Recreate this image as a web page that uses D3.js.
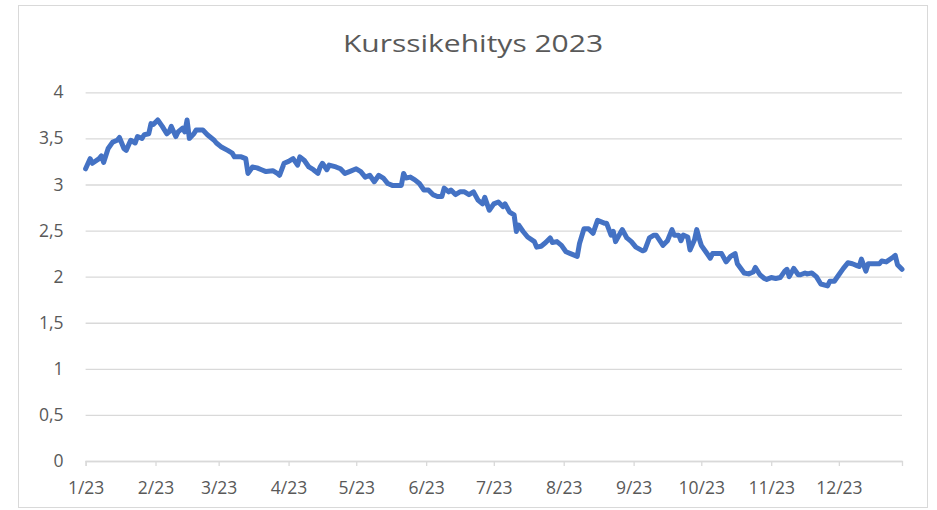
<!DOCTYPE html>
<html>
<head>
<meta charset="utf-8">
<script src="https://cdn.jsdelivr.net/npm/d3@7"></script>
<style>
    body { margin: 0; background: #fff; }
    text { font-family: "Open Sans", sans-serif; fill: #595959; }
</style>
</head>
<body>
<div id="chart"></div>
<script>
// chart data: day of year 2023 (0 = Jan 1) and closing price
const days = [
    0, 2, 3, 6, 7, 8, 10, 12, 14, 15, 17, 18, 20, 22, 23, 25, 26, 28, 29, 30,
    32, 34, 36, 37, 38, 40, 41, 43, 44, 45, 46, 48, 49, 52, 54, 57, 58, 60, 63, 65,
    66, 69, 71, 72, 74, 76, 78, 80, 83, 85, 86, 88, 90, 92, 94, 95, 97, 99, 101, 103,
    104, 105, 107, 108, 111, 113, 115, 117, 120, 122, 124, 126, 128, 130, 132, 134, 136, 138, 140, 141,
    142, 144, 146, 148, 150, 152, 154, 156, 158, 159, 161, 162, 164, 166, 168, 170, 172, 174, 176, 177,
    179, 181, 183, 185, 186, 188, 190, 191, 192, 194, 196, 199, 200, 202, 204, 206, 207, 209, 211, 213,
    215, 218, 219, 221, 223, 225, 227, 230, 231, 233, 234, 235, 237, 238, 240, 242, 244, 247, 248, 250,
    252, 253, 256, 258, 260, 261, 263, 264, 265, 267, 268, 270, 271, 272, 273, 275, 277, 278, 280, 282,
    284, 286, 288, 289, 292, 294, 296, 297, 299, 301, 302, 304, 306, 308, 310, 311, 312, 314, 316, 317,
    319, 320, 322, 324, 326, 329, 330, 332, 334, 336, 338, 340, 342, 343, 344, 346, 347, 349, 352, 353,
    355, 358, 359, 360, 362
];
const prices = [
    3.17, 3.28, 3.23, 3.28, 3.31, 3.24, 3.39, 3.46, 3.48, 3.51, 3.39, 3.37, 3.48, 3.45, 3.52, 3.50, 3.54, 3.55, 3.66, 3.65,
    3.70, 3.63, 3.55, 3.57, 3.63, 3.52, 3.57, 3.61, 3.57, 3.70, 3.50, 3.55, 3.59, 3.59, 3.54, 3.48, 3.45, 3.41, 3.37, 3.34,
    3.30, 3.30, 3.28, 3.12, 3.19, 3.18, 3.16, 3.14, 3.15, 3.12, 3.10, 3.23, 3.25, 3.28, 3.21, 3.30, 3.26, 3.19, 3.16, 3.12,
    3.19, 3.23, 3.16, 3.21, 3.19, 3.17, 3.12, 3.14, 3.17, 3.14, 3.08, 3.10, 3.03, 3.10, 3.07, 3.01, 2.99, 2.99, 2.99, 3.12,
    3.07, 3.08, 3.05, 3.01, 2.94, 2.94, 2.89, 2.87, 2.87, 2.96, 2.92, 2.94, 2.89, 2.92, 2.92, 2.89, 2.92, 2.83, 2.79, 2.86,
    2.72, 2.79, 2.81, 2.76, 2.79, 2.70, 2.67, 2.49, 2.56, 2.49, 2.43, 2.38, 2.32, 2.33, 2.37, 2.42, 2.37, 2.38, 2.34, 2.27,
    2.25, 2.22, 2.36, 2.52, 2.52, 2.47, 2.61, 2.58, 2.58, 2.45, 2.49, 2.38, 2.47, 2.51, 2.42, 2.38, 2.32, 2.28, 2.29, 2.42,
    2.45, 2.45, 2.34, 2.39, 2.51, 2.45, 2.45, 2.39, 2.45, 2.43, 2.29, 2.40, 2.51, 2.42, 2.34, 2.27, 2.20, 2.25, 2.25, 2.25,
    2.16, 2.22, 2.25, 2.14, 2.04, 2.03, 2.05, 2.10, 2.02, 1.98, 1.97, 1.99, 1.98, 1.99, 2.06, 2.08, 2.00, 2.09, 2.02, 2.02,
    2.04, 2.03, 2.04, 2.00, 1.92, 1.90, 1.95, 1.95, 2.02, 2.09, 2.15, 2.14, 2.12, 2.11, 2.19, 2.06, 2.14, 2.14, 2.14, 2.17,
    2.16, 2.21, 2.23, 2.13, 2.08
];
const yTicks = [0, 0.5, 1, 1.5, 2, 2.5, 3, 3.5, 4];
const monthLabels = ["1/23", "2/23", "3/23", "4/23", "5/23", "6/23", "7/23", "8/23", "9/23", "10/23", "11/23", "12/23"];
const chartTitle = "Kurssikehitys 2023";

const width = 937;
const height = 510;
const start = new Date(2023, 0, 1);

const data = days.map((d, i) => ({ date: d3.timeDay.offset(start, d), value: prices[i] }));

const svg = d3.select("#chart")
    .append("svg")
    .attr("width", width)
    .attr("height", height);

// chart area frame
svg.append("rect")
    .attr("x", 18.5).attr("y", 5.5)
    .attr("width", 909).attr("height", 502)
    .attr("fill", "#fff")
    .attr("stroke", "#d9d9d9");

const x = d3.scaleTime()
    .domain([start, d3.timeDay.offset(start, days[days.length - 1])])
    .range([85.6, 902]);

const y = d3.scaleLinear()
    .domain([0, 4])
    .range([461, 92.3]);

// horizontal gridlines + y labels
const yAxis = d3.axisLeft(y)
    .tickValues(yTicks)
    .tickSize(-(902 - 85.6))
    .tickPadding(22)
    .tickFormat(d => String(d).replace(".", ","));

svg.append("g")
    .attr("transform", "translate(85.6,0)")
    .call(yAxis)
    .call(g => g.select(".domain").remove())
    .call(g => g.selectAll("line").attr("stroke", "#d9d9d9").attr("stroke-width", 1.3))
    .call(g => g.selectAll("text")
        .attr("font-size", 17.5)
        .attr("fill", "#595959")
        .attr("font-family", "Open Sans"));

// month ticks on the bottom axis
const xAxis = d3.axisBottom(x)
    .tickValues(d3.timeMonth.range(start, new Date(2024, 0, 1)))
    .tickSize(5)
    .tickPadding(16)
    .tickFormat((d, i) => monthLabels[i]);

svg.append("g")
    .attr("transform", `translate(0,${y(0)})`)
    .call(xAxis)
    .call(g => g.select(".domain").attr("stroke", "#d9d9d9").attr("stroke-width", 1.3))
    .call(g => g.selectAll("line").attr("stroke", "#d9d9d9").attr("stroke-width", 1.3))
    .call(g => g.selectAll("text")
        .attr("font-size", 17.5)
        .attr("fill", "#595959")
        .attr("font-family", "Open Sans"));

// price line
const line = d3.line()
    .x(d => x(d.date))
    .y(d => y(d.value));

svg.append("path")
    .datum(data)
    .attr("fill", "none")
    .attr("stroke", "#4472c4")
    .attr("stroke-width", 5)
    .attr("stroke-linejoin", "round")
    .attr("stroke-linecap", "round")
    .attr("d", line);

// title, stretched a bit wider like the original
svg.append("text")
    .attr("transform", "translate(473,52) scale(1.25,1)")
    .attr("text-anchor", "middle")
    .attr("font-size", 24)
    .text(chartTitle);
</script>
</body>
</html>
